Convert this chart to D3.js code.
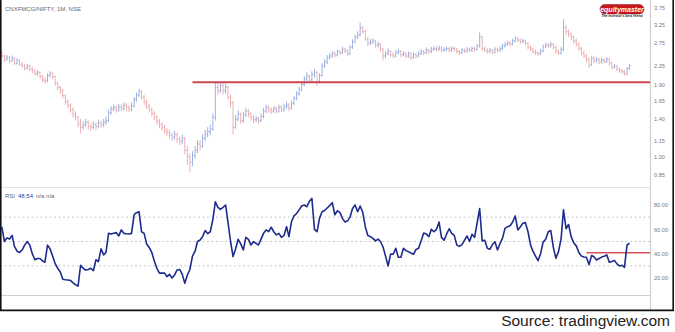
<!DOCTYPE html>
<html>
<head>
<meta charset="utf-8">
<script src="https://cdn.jsdelivr.net/npm/d3@7"></script>
<style>
  body { margin: 0; background: #fff; }
  svg { display: block; font-family: "Liberation Sans", Arial, sans-serif; }
</style>
</head>
<body>
<svg id="chart" width="675" height="332"></svg>
<script>
// Monthly CNXFMCG/NIFTY ratio, first bar October 2001
const firstYear = 2001, firstMonth = 9;

const opens = [
2.50,2.45,2.38,2.42,2.35,2.40,2.30,2.36,2.28,2.25,
2.20,2.24,2.18,2.15,2.10,2.12,2.04,1.98,1.96,2.06,
2.10,2.04,1.92,1.85,1.80,1.72,1.63,1.58,1.52,1.46,
1.42,1.34,1.30,1.33,1.36,1.31,1.30,1.33,1.31,1.35,
1.33,1.36,1.38,1.48,1.53,1.55,1.52,1.56,1.54,1.58,
1.55,1.53,1.57,1.66,1.73,1.79,1.70,1.62,1.57,1.52,
1.47,1.42,1.37,1.33,1.30,1.26,1.24,1.21,1.19,1.22,
1.17,1.15,1.18,1.06,1.00,0.95,1.01,1.06,1.12,1.10,
1.18,1.22,1.25,1.28,1.42,1.85,1.80,1.88,1.80,1.86,
1.70,1.62,1.30,1.40,1.46,1.38,1.45,1.50,1.46,1.42,
1.39,1.40,1.38,1.43,1.50,1.55,1.52,1.50,1.53,1.50,
1.55,1.52,1.56,1.58,1.54,1.61,1.68,1.75,1.82,1.90,
2.00,2.05,1.98,2.08,2.12,1.95,2.06,2.25,2.32,2.42,
2.45,2.50,2.47,2.55,2.52,2.60,2.56,2.50,2.65,2.78,
2.90,2.95,3.15,3.05,2.85,2.75,2.78,2.80,2.70,2.72,
2.60,2.45,2.50,2.55,2.48,2.45,2.52,2.55,2.48,2.50,
2.45,2.50,2.42,2.48,2.45,2.50,2.55,2.52,2.58,2.55,
2.60,2.62,2.60,2.63,2.58,2.60,2.62,2.58,2.62,2.60,
2.55,2.52,2.58,2.56,2.60,2.58,2.62,2.60,2.68,2.90,
2.62,2.58,2.55,2.58,2.54,2.60,2.58,2.62,2.68,2.72,
2.75,2.72,2.80,2.86,2.82,2.78,2.80,2.74,2.65,2.60,
2.55,2.52,2.50,2.56,2.66,2.70,2.68,2.72,2.65,2.55,
2.52,2.60,3.15,3.05,2.98,2.90,2.80,2.72,2.62,2.52,
2.45,2.38,2.26,2.40,2.35,2.38,2.32,2.36,2.33,2.38,
2.30,2.22,2.24,2.18,2.15,2.13,2.09,2.19];

const highs = [
2.56,2.48,2.47,2.45,2.46,2.42,2.40,2.38,2.32,2.29,
2.28,2.27,2.22,2.18,2.16,2.14,2.07,2.02,2.10,2.14,
2.12,2.06,1.95,1.88,1.83,1.74,1.67,1.61,1.55,1.50,
1.44,1.40,1.37,1.40,1.38,1.35,1.37,1.36,1.39,1.38,
1.40,1.43,1.52,1.57,1.59,1.58,1.60,1.59,1.62,1.61,
1.58,1.62,1.70,1.77,1.83,1.81,1.73,1.66,1.60,1.55,
1.50,1.45,1.40,1.36,1.33,1.29,1.27,1.24,1.26,1.24,
1.20,1.22,1.19,1.10,1.03,1.05,1.10,1.16,1.16,1.22,
1.27,1.30,1.33,1.47,1.94,1.92,1.93,1.92,1.92,1.88,
1.74,1.64,1.45,1.51,1.48,1.49,1.54,1.53,1.49,1.45,
1.44,1.43,1.47,1.54,1.59,1.58,1.55,1.57,1.56,1.59,
1.58,1.60,1.63,1.61,1.65,1.72,1.79,1.86,1.95,2.05,
2.12,2.08,2.14,2.18,2.14,2.10,2.30,2.38,2.47,2.52,
2.56,2.55,2.60,2.59,2.66,2.64,2.60,2.70,2.84,2.97,
3.05,3.30,3.20,3.08,2.90,2.85,2.87,2.83,2.78,2.75,
2.63,2.56,2.62,2.58,2.53,2.58,2.61,2.58,2.56,2.54,
2.55,2.53,2.53,2.52,2.56,2.61,2.59,2.64,2.62,2.66,
2.68,2.67,2.69,2.66,2.65,2.67,2.65,2.67,2.66,2.63,
2.58,2.63,2.62,2.65,2.64,2.67,2.66,2.73,3.02,2.92,
2.66,2.62,2.63,2.61,2.65,2.64,2.67,2.73,2.78,2.81,
2.79,2.86,2.92,2.90,2.86,2.86,2.83,2.77,2.69,2.64,
2.59,2.56,2.61,2.71,2.76,2.75,2.78,2.75,2.68,2.60,
2.66,3.40,3.22,3.10,3.02,2.94,2.86,2.76,2.66,2.57,
2.50,2.42,2.45,2.45,2.43,2.41,2.41,2.40,2.43,2.40,
2.33,2.28,2.26,2.21,2.18,2.16,2.22,2.28];

const lows = [
2.40,2.32,2.35,2.30,2.32,2.26,2.27,2.24,2.20,2.15,
2.17,2.14,2.10,2.06,2.05,2.00,1.94,1.92,1.94,2.02,
2.00,1.88,1.81,1.75,1.68,1.59,1.54,1.48,1.42,1.38,
1.30,1.23,1.27,1.30,1.27,1.26,1.28,1.27,1.29,1.29,
1.30,1.33,1.36,1.45,1.50,1.48,1.49,1.50,1.51,1.51,
1.49,1.50,1.55,1.63,1.70,1.66,1.58,1.53,1.48,1.43,
1.38,1.33,1.29,1.26,1.22,1.20,1.17,1.15,1.16,1.13,
1.11,1.12,1.02,0.93,0.87,0.92,0.98,1.03,1.06,1.08,
1.15,1.19,1.21,1.26,1.38,1.74,1.76,1.74,1.75,1.66,
1.55,1.22,1.28,1.37,1.34,1.35,1.42,1.42,1.38,1.35,
1.36,1.34,1.36,1.41,1.47,1.48,1.46,1.47,1.47,1.48,
1.49,1.49,1.53,1.50,1.52,1.58,1.65,1.72,1.79,1.87,
1.96,1.93,1.95,2.02,1.88,1.92,2.04,2.20,2.28,2.38,
2.41,2.42,2.44,2.47,2.49,2.51,2.45,2.47,2.61,2.74,
2.85,2.92,2.98,2.80,2.68,2.70,2.72,2.64,2.65,2.55,
2.36,2.40,2.46,2.43,2.40,2.42,2.48,2.43,2.44,2.40,
2.41,2.36,2.39,2.40,2.42,2.47,2.47,2.49,2.50,2.51,
2.56,2.55,2.56,2.53,2.54,2.56,2.53,2.54,2.55,2.50,
2.47,2.49,2.51,2.52,2.53,2.54,2.55,2.57,2.64,2.56,
2.53,2.50,2.51,2.49,2.50,2.53,2.54,2.58,2.64,2.68,
2.67,2.69,2.76,2.77,2.73,2.74,2.69,2.60,2.55,2.50,
2.47,2.45,2.47,2.53,2.62,2.63,2.64,2.60,2.50,2.47,
2.48,2.55,2.96,2.90,2.82,2.74,2.66,2.56,2.46,2.40,
2.32,2.20,2.24,2.30,2.31,2.28,2.29,2.29,2.30,2.25,
2.18,2.19,2.14,2.11,2.09,2.06,2.07,2.17];

const closes = [
2.45,2.38,2.42,2.35,2.40,2.30,2.36,2.28,2.25,2.20,
2.24,2.18,2.15,2.10,2.12,2.04,1.98,1.96,2.06,2.10,
2.04,1.92,1.85,1.80,1.72,1.63,1.58,1.52,1.46,1.42,
1.34,1.30,1.33,1.36,1.31,1.30,1.33,1.31,1.35,1.33,
1.36,1.38,1.48,1.53,1.55,1.52,1.56,1.54,1.58,1.55,
1.53,1.57,1.66,1.73,1.79,1.70,1.62,1.57,1.52,1.47,
1.42,1.37,1.33,1.30,1.26,1.24,1.21,1.19,1.22,1.17,
1.15,1.18,1.06,1.00,0.95,1.01,1.06,1.12,1.10,1.18,
1.22,1.25,1.28,1.42,1.85,1.80,1.88,1.80,1.86,1.70,
1.62,1.30,1.40,1.46,1.38,1.45,1.50,1.46,1.42,1.39,
1.40,1.38,1.43,1.50,1.55,1.52,1.50,1.53,1.50,1.55,
1.52,1.56,1.58,1.54,1.61,1.68,1.75,1.82,1.90,2.00,
2.05,1.98,2.08,2.12,1.95,2.06,2.25,2.32,2.42,2.45,
2.50,2.47,2.55,2.52,2.60,2.56,2.50,2.65,2.78,2.90,
2.95,3.15,3.05,2.85,2.75,2.78,2.80,2.70,2.72,2.60,
2.45,2.50,2.55,2.48,2.45,2.52,2.55,2.48,2.50,2.45,
2.50,2.42,2.48,2.45,2.50,2.55,2.52,2.58,2.55,2.60,
2.62,2.60,2.63,2.58,2.60,2.62,2.58,2.62,2.60,2.55,
2.52,2.58,2.56,2.60,2.58,2.62,2.60,2.68,2.90,2.62,
2.58,2.55,2.58,2.54,2.60,2.58,2.62,2.68,2.72,2.75,
2.72,2.80,2.86,2.82,2.78,2.80,2.74,2.65,2.60,2.55,
2.52,2.50,2.56,2.66,2.70,2.68,2.72,2.65,2.55,2.52,
2.60,3.15,3.05,2.98,2.90,2.80,2.72,2.62,2.52,2.45,
2.38,2.26,2.40,2.35,2.38,2.32,2.36,2.33,2.38,2.30,
2.22,2.24,2.18,2.15,2.13,2.09,2.19,2.25];

// Monthly RSI(14) of the ratio
const rsiValues = [
62,50,53,52,55,46,42,41,43,47,
50,47,40,35,36,36,34,33,47,44,
38,32,28,25,19,18.5,18.4,18,16,14.5,
13.4,30.5,28,26.5,27,28,26,35,33.5,44,
39,41,56.7,56.2,56.8,57.3,54.6,59.5,56.7,56.4,
56.2,56.7,72,73.7,74.5,58,56.7,48,45,41,
34,28,24,24,24,21.2,23,20,22.5,26.6,
27,23,15.7,22.5,27,38,42,50,51.2,54,
59,56.5,58,68,82.7,78,76.4,78.1,80,66,
50,37.6,44,51.8,48,43,53.4,51.8,47.1,49.8,
48.5,47.1,52,56.7,59.5,58.1,61.7,58,55.4,56.7,
53.4,55,62.2,54,66.4,71,73,76,79.2,80,
78.6,83,85.4,60,58.1,69,74.5,75.5,77.5,79.5,
81.9,72,75.3,73.7,69,66,67,70,77.2,80,
74.5,79.2,74,62,55,54,52.6,50.5,52,50,
45.5,38,29.9,39.7,39.5,44.4,37,37,44.4,42.5,
41.5,40.5,39.5,43.5,44.4,50.5,57,56.2,54,60,
58,60,66,53.4,51,56,60.5,56.7,55,47,
46,47.5,51,54.5,50,56,53.4,65,77,50.5,
51,44.4,43.6,47.5,49.8,43,48.5,52.6,60.8,62.2,
63,66,71,59.5,62,65,65.5,58,47,42,
38,34.2,40,49.5,51.8,58.1,59,45,36.2,41.7,
52,76,60.5,64,54,49,46.4,41,38,37.3,
37,31,38.5,37.5,34.8,36,37.2,37.8,39,33,
33.5,34.5,31.6,29.9,30.5,28.8,47.1,48.54];

const priceTicks = [3.75, 3.25, 2.75, 2.25, 1.90, 1.65, 1.40, 1.15, 1.00, 0.85];
const rsiTicks = [80, 60, 40, 20];
const rsiGuides = [70, 50, 30];
const yearTicks = [2003, 2005, 2007, 2009, 2011, 2013, 2015, 2017, 2019, 2021, 2023];

// Horizontal levels drawn in red
const priceLevel = 1.94, priceLevelFrom = new Date(2008, 0, 1);
const rsiLevel = 40.8, rsiLevelFrom = new Date(2020, 11, 1);

const rsiName = "RSI", rsiLast = "48.54", rsiTail = "n/a n/a";
const titleText = "CNXFMCG/NIFTY, 1M, NSE";

// ---- layout ----
const plotRight = 650;
const pricePane = { top: 0, bottom: 187 };
const rsiPane = { top: 187, bottom: 295 };

const svg = d3.select("#chart");

const bars = closes.map((c, i) => ({
  date: new Date(firstYear, firstMonth + i, 1),
  o: opens[i], h: highs[i], l: lows[i], c: c, rsi: rsiValues[i]
}));

const x = d3.scaleTime()
  .domain([new Date(2003, 0, 1), new Date(2023, 0, 1)])
  .range([40, 650]);
const yPrice = d3.scaleLog().domain([0.85, 2.75]).range([175, 43]);
const yRsi = d3.scaleLinear().domain([20, 80]).range([278, 205]);

const defs = svg.append("defs");
defs.append("clipPath").attr("id", "clipPrice")
  .append("rect").attr("x", 0).attr("y", pricePane.top)
  .attr("width", plotRight).attr("height", pricePane.bottom - pricePane.top);
defs.append("clipPath").attr("id", "clipRsi")
  .append("rect").attr("x", 0).attr("y", rsiPane.top)
  .attr("width", plotRight).attr("height", rsiPane.bottom - rsiPane.top);
defs.append("clipPath").attr("id", "clipTime")
  .append("rect").attr("x", 0).attr("y", 290).attr("width", plotRight).attr("height", 20);

// pane separators
svg.append("line").attr("x1", 0).attr("x2", plotRight)
  .attr("y1", rsiPane.top + 0.5).attr("y2", rsiPane.top + 0.5)
  .attr("stroke", "#e2e2e2").attr("stroke-width", 1);
svg.append("line").attr("x1", 0).attr("x2", plotRight)
  .attr("y1", rsiPane.bottom + 0.5).attr("y2", rsiPane.bottom + 0.5)
  .attr("stroke", "#cfcfcf").attr("stroke-width", 1);
svg.append("line").attr("x1", plotRight + 0.5).attr("x2", plotRight + 0.5)
  .attr("y1", 0).attr("y2", 311)
  .attr("stroke", "#cfcfcf").attr("stroke-width", 1.2);

// ---- price pane: OHLC bars ----
const priceG = svg.append("g").attr("clip-path", "url(#clipPrice)");
const upColor = "#8aa6dc", downColor = "#eaa2a5";
const barG = priceG.selectAll("g.bar").data(bars).join("g").attr("class", "bar")
  .attr("stroke", d => d.c >= d.o ? upColor : downColor)
  .attr("stroke-width", 0.85);
barG.append("line")
  .attr("x1", d => x(d.date)).attr("x2", d => x(d.date))
  .attr("y1", d => yPrice(d.h)).attr("y2", d => yPrice(d.l));
barG.append("line")
  .attr("x1", d => x(d.date) - 1.1).attr("x2", d => x(d.date))
  .attr("y1", d => yPrice(d.o)).attr("y2", d => yPrice(d.o));
barG.append("line")
  .attr("x1", d => x(d.date)).attr("x2", d => x(d.date) + 1.1)
  .attr("y1", d => yPrice(d.c)).attr("y2", d => yPrice(d.c));

priceG.append("line")
  .attr("x1", x(priceLevelFrom)).attr("x2", plotRight)
  .attr("y1", yPrice(priceLevel)).attr("y2", yPrice(priceLevel))
  .attr("stroke", "#cc4650").attr("stroke-width", 1.8);

// price axis
const priceAxis = svg.append("g")
  .attr("transform", `translate(${plotRight},0)`)
  .call(d3.axisRight(yPrice).tickValues(priceTicks)
    .tickFormat(d3.format(".2f")).tickSize(0).tickPadding(4));
priceAxis.select(".domain").remove();
priceAxis.selectAll("text").attr("fill", "#7a7a7a")
  .style("font-size", "5.6px").attr("font-family", "Liberation Sans, Arial, sans-serif");

// ---- RSI pane ----
const rsiG = svg.append("g").attr("clip-path", "url(#clipRsi)");
rsiG.selectAll("line.guide").data(rsiGuides).join("line").attr("class", "guide")
  .attr("x1", 0).attr("x2", plotRight)
  .attr("y1", d => yRsi(d)).attr("y2", d => yRsi(d))
  .attr("stroke", "#bdbdbd").attr("stroke-width", 0.8)
  .attr("stroke-dasharray", "2,2.5");

rsiG.append("line")
  .attr("x1", x(rsiLevelFrom)).attr("x2", plotRight)
  .attr("y1", yRsi(rsiLevel)).attr("y2", yRsi(rsiLevel))
  .attr("stroke", "#d4525a").attr("stroke-width", 1.4);

rsiG.append("path").datum(bars)
  .attr("fill", "none").attr("stroke", "#1d2b8c").attr("stroke-width", 1.6)
  .attr("stroke-linejoin", "round")
  .attr("d", d3.line().x(d => x(d.date)).y(d => yRsi(d.rsi)));

const rsiAxis = svg.append("g")
  .attr("transform", `translate(${plotRight},0)`)
  .call(d3.axisRight(yRsi).tickValues(rsiTicks)
    .tickFormat(d3.format(".2f")).tickSize(0).tickPadding(4));
rsiAxis.select(".domain").remove();
rsiAxis.selectAll("text").attr("fill", "#7a7a7a")
  .style("font-size", "5.6px").attr("font-family", "Liberation Sans, Arial, sans-serif");

// ---- time axis ----
const timeAxis = svg.append("g")
  .attr("transform", `translate(0,${rsiPane.bottom})`)
  .attr("clip-path", "url(#clipTime)")
  .call(d3.axisBottom(x).tickValues(yearTicks.map(y => new Date(y, 0, 1)))
    .tickFormat(d3.timeFormat("%Y")).tickSize(0).tickPadding(6));
timeAxis.select(".domain").remove();
timeAxis.selectAll("text").attr("fill", "#7a7a7a")
  .style("font-size", "5.6px").attr("font-family", "Liberation Sans, Arial, sans-serif");

// ---- legends ----
svg.append("text").attr("x", 5).attr("y", 10.5)
  .attr("fill", "#666").style("font-size", "6px").text(titleText);

const rsiLabel = svg.append("text").attr("x", 5).attr("y", 197.5)
  .style("font-size", "6px").attr("fill", "#666");
rsiLabel.append("tspan").text(rsiName);
rsiLabel.append("tspan").attr("dx", 3).attr("fill", "#2b3c9e").text(rsiLast);
rsiLabel.append("tspan").attr("dx", 3).text(rsiTail);

// ---- brand badge ----
const badge = svg.append("g");
badge.append("rect").attr("x", 600).attr("y", 4.5).attr("width", 44).attr("height", 9.5)
  .attr("rx", 4.75).attr("fill", "#c8161d").attr("stroke", "#8c1015").attr("stroke-width", 0.5);
badge.append("text").attr("x", 622).attr("y", 11.8).attr("text-anchor", "middle")
  .attr("fill", "#fff").style("font-size", "7px").style("font-weight", "bold")
  .style("font-style", "italic").text("equitymaster");
badge.append("text").attr("x", 622).attr("y", 17.2).attr("text-anchor", "middle")
  .attr("fill", "#222").style("font-size", "3.4px").style("font-weight", "bold")
  .text("The investor's best friend");

// ---- frame ----
const frame = svg.append("g").attr("stroke", "#111").attr("stroke-width", 1.6);
frame.append("line").attr("x1", 0.8).attr("x2", 0.8).attr("y1", 0).attr("y2", 311);
frame.append("line").attr("x1", 0).attr("x2", 674).attr("y1", 310.4).attr("y2", 310.4);
frame.append("line").attr("x1", 673.2).attr("x2", 673.2).attr("y1", 0).attr("y2", 311);

svg.append("text").attr("x", 670).attr("y", 326).attr("text-anchor", "end")
  .attr("fill", "#222").style("font-size", "15.5px").text("Source: tradingview.com");
</script>
</body>
</html>
